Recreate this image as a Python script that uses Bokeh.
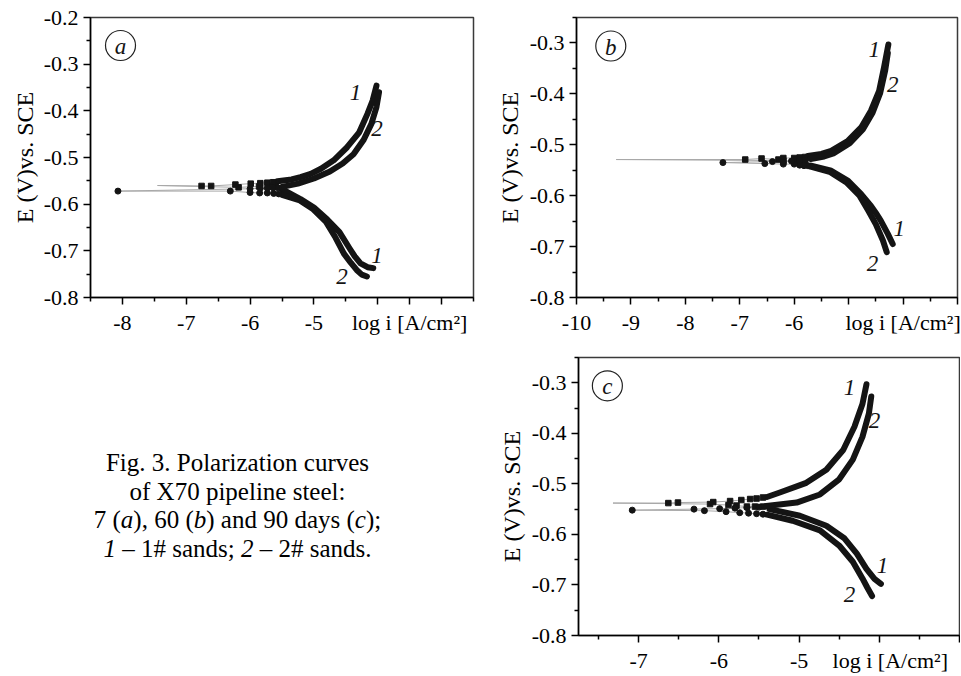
import math
from bokeh.plotting import figure
from bokeh.models import FixedTicker, Range1d, Div
from bokeh.layouts import column, row
from bokeh.embed import file_html
from bokeh.resources import INLINE
from bokeh.core.properties import value

FONT = "Liberation Serif"
INK = "#141414"

Y_LABEL = "E (V)vs. SCE"
X_LABEL = "log i [A/cm\u00b2]"
PAD = "\u00a0"

# ---------------- Panel (a): 7 days ----------------
# the x-axis title sits on the tick-label row, carried by the tick at -3.5
a_xticks = [-8, -7, -6, -5, -4, -3.5, -3]
a_xlabels = ["-8", "-7", "-6", "-5", "", X_LABEL, ""]
a_yticks = [-0.8, -0.7, -0.6, -0.5, -0.4, -0.3, -0.2]
a_ylabels = ["-0.8", "-0.7", "-0.6", "-0.5", "-0.4", "-0.3", "-0.2"]

# curve 1 (1# sands), squares
a1_cath_logi = [-4.07, -4.16, -4.27, -4.36, -4.44, -4.60, -4.79, -5.00, -5.21, -5.50]
a1_cath_E = [-0.737, -0.735, -0.727, -0.712, -0.695, -0.660, -0.633, -0.607, -0.589, -0.568]
a1_anod_logi = [-5.57, -5.35, -5.21, -5.05, -4.89, -4.69, -4.48, -4.29, -4.16, -4.08, -4.02]
a1_anod_E = [-0.551, -0.547, -0.542, -0.535, -0.524, -0.506, -0.478, -0.446, -0.406, -0.378, -0.346]
a1_scat_c_logi = [-5.60, -5.72, -5.86, -6.18]
a1_scat_c_E = [-0.562, -0.562, -0.562, -0.564]
a1_min_logi, a1_min_E = -7.45, -0.560
a1_scat_a_logi = [-6.76, -6.61, -6.23, -5.99, -5.84, -5.73, -5.64]
a1_scat_a_E = [-0.561, -0.561, -0.558, -0.556, -0.555, -0.554, -0.553]
# curve 2 (2# sands), circles
a2_cath_logi = [-4.17, -4.25, -4.33, -4.42, -4.53, -4.66, -4.81, -5.01, -5.22, -5.50]
a2_cath_E = [-0.755, -0.751, -0.741, -0.726, -0.706, -0.672, -0.638, -0.611, -0.592, -0.580]
a2_anod_logi = [-5.50, -5.25, -5.00, -4.75, -4.55, -4.38, -4.22, -4.10, -4.02, -3.98]
a2_anod_E = [-0.563, -0.556, -0.545, -0.530, -0.513, -0.493, -0.462, -0.428, -0.392, -0.360]
a2_scat_c_logi = [-5.55, -5.63, -5.73, -5.85, -6.00, -6.31]
a2_scat_c_E = [-0.578, -0.577, -0.576, -0.576, -0.575, -0.572]
a2_min_logi, a2_min_E = -8.07, -0.572
a2_scat_a_logi = [-6.00, -5.84, -5.73, -5.64, -5.56]
a2_scat_a_E = [-0.567, -0.566, -0.566, -0.565, -0.565]

# ---------------- Panel (b): 60 days ----------------
b_xticks = [-10, -9, -8, -7, -6, -5, -4, -3]
b_xlabels = ["-10", "-9", "-8", "-7", "-6", "", X_LABEL, ""]
b_yticks = [-0.8, -0.7, -0.6, -0.5, -0.4, -0.3]
b_ylabels = ["-0.8", "-0.7", "-0.6", "-0.5", "-0.4", "-0.3"]

b1_cath_logi = [-4.19, -4.28, -4.41, -4.50, -4.59, -4.77, -5.01, -5.32, -5.69]
b1_cath_E = [-0.695, -0.675, -0.649, -0.634, -0.620, -0.597, -0.571, -0.551, -0.541]
b1_anod_logi = [-5.75, -5.50, -5.32, -5.01, -4.77, -4.59, -4.44, -4.35, -4.27]
b1_anod_E = [-0.522, -0.518, -0.512, -0.492, -0.466, -0.433, -0.394, -0.348, -0.303]
b1_scat_c_logi = [-5.80, -5.90, -6.00, -6.20]
b1_scat_c_E = [-0.533, -0.533, -0.532, -0.531]
b1_min_logi, b1_min_E = -9.27, -0.529
b1_scat_a_logi = [-6.90, -6.60, -6.29, -6.20, -6.00, -5.90, -5.80]
b1_scat_a_E = [-0.529, -0.527, -0.529, -0.526, -0.526, -0.525, -0.524]

b2_cath_logi = [-4.30, -4.37, -4.50, -4.63, -4.80, -5.04, -5.35, -5.70]
b2_cath_E = [-0.711, -0.688, -0.656, -0.631, -0.600, -0.574, -0.553, -0.543]
b2_anod_logi = [-5.70, -5.45, -5.28, -4.98, -4.74, -4.56, -4.42, -4.33, -4.28]
b2_anod_E = [-0.528, -0.523, -0.517, -0.497, -0.470, -0.437, -0.398, -0.355, -0.320]
b2_scat_c_logi = [-5.75, -5.82, -5.90, -6.00, -6.20, -6.54]
b2_scat_c_E = [-0.541, -0.541, -0.540, -0.538, -0.538, -0.537]
b2_min_logi, b2_min_E = -7.31, -0.535
b2_scat_a_logi = [-6.40, -6.20, -6.05, -5.90, -5.80]
b2_scat_a_E = [-0.533, -0.534, -0.532, -0.531, -0.530]

# ---------------- Panel (c): 90 days ----------------
c_xticks = [-7, -6, -5, -4, -3]
c_xlabels = ["-7", "-6", "-5", PAD * 4 + X_LABEL, ""]
c_yticks = [-0.8, -0.7, -0.6, -0.5, -0.4, -0.3]
c_ylabels = ["-0.8", "-0.7", "-0.6", "-0.5", "-0.4", "-0.3"]

c1_cath_logi = [-3.98, -4.06, -4.16, -4.28, -4.44, -4.66, -4.99, -5.37]
c1_cath_E = [-0.698, -0.688, -0.668, -0.638, -0.607, -0.583, -0.563, -0.550]
c1_anod_logi = [-5.40, -5.24, -4.91, -4.66, -4.45, -4.31, -4.21, -4.16]
c1_anod_E = [-0.526, -0.517, -0.498, -0.472, -0.433, -0.387, -0.342, -0.303]
c1_scat_c_logi = [-5.45, -5.55, -5.65, -5.78, -5.88, -6.11]
c1_scat_c_E = [-0.545, -0.545, -0.545, -0.543, -0.542, -0.540]
c1_min_logi, c1_min_E = -7.32, -0.538
c1_scat_a_logi = [-6.63, -6.51, -6.07, -5.86, -5.72, -5.61, -5.53, -5.45]
c1_scat_a_E = [-0.538, -0.537, -0.536, -0.534, -0.532, -0.530, -0.529, -0.527]

c2_cath_logi = [-4.09, -4.15, -4.21, -4.33, -4.50, -4.74, -5.08, -5.40]
c2_cath_E = [-0.722, -0.705, -0.687, -0.654, -0.622, -0.592, -0.573, -0.561]
c2_anod_logi = [-5.41, -5.03, -4.74, -4.50, -4.33, -4.21, -4.13, -4.10]
c2_anod_E = [-0.544, -0.537, -0.521, -0.491, -0.452, -0.407, -0.361, -0.327]
c2_scat_c_logi = [-5.45, -5.53, -5.63, -5.74, -5.91, -6.18]
c2_scat_c_E = [-0.560, -0.559, -0.558, -0.557, -0.555, -0.553]
c2_min_logi, c2_min_E = -7.08, -0.552
c2_scat_a_logi = [-6.31, -5.99, -5.80, -5.65, -5.50]
c2_scat_a_E = [-0.550, -0.549, -0.548, -0.547, -0.546]

curve_tags = ["1", "2", "1", "2"]

CAPTION = ("Fig. 3. Polarization curves<br>of X70 pipeline steel:<br>"
           "7 (<i>a</i>), 60 (<i>b</i>) and 90 days (<i>c</i>);<br>"
           "<i>1</i> \u2013 1# sands; <i>2</i> \u2013 2# sands.")


def curve(cx, cy, ax, ay, scx, scy, mx, my, sax, say, marker, min_marked):
    return dict(cx=cx, cy=cy, ax=ax, ay=ay, scx=scx, scy=scy, mx=mx, my=my,
                sax=sax, say=say, marker=marker, min_marked=min_marked)


def half_steps(lo, hi, skip):
    out = []
    k = math.ceil(lo * 2)
    while k / 2 <= hi + 1e-9:
        v = k / 2
        if k % 2 != 0 and v not in skip:
            out.append(v)
        k += 1
    return out


def build_panel(width, height, borders, xr, yr, xticks, xlabels, yticks, ylabels,
                curves, tag_xy, letter, letter_xy, ylab_standoff):
    bl, br, bt, bb = borders
    p = figure(width=width, height=height, x_range=Range1d(*xr), y_range=Range1d(*yr),
               output_backend="svg", toolbar_location=None,
               min_border_left=bl, min_border_right=br, min_border_top=bt, min_border_bottom=bb,
               background_fill_color="white", border_fill_color="white")
    p.grid.visible = False
    p.outline_line_color = "#3a3a3a"
    p.outline_line_width = 1.5

    p.xaxis.ticker = FixedTicker(ticks=xticks, minor_ticks=half_steps(xr[0], xr[1], xticks))
    p.xaxis.major_label_overrides = {t: l for t, l in zip(xticks, xlabels)}
    yminor = [round(v / 100.0, 3) for v in range(int(round(yr[0] * 100)), int(round(yr[1] * 100)) + 1)
              if v % 10 != 0 and v % 5 == 0]
    p.yaxis.ticker = FixedTicker(ticks=yticks, minor_ticks=yminor)
    p.yaxis.major_label_overrides = {t: l for t, l in zip(yticks, ylabels)}
    for ax in (p.xaxis[0], p.yaxis[0]):
        ax.axis_line_color = "black"
        ax.axis_line_width = 1.5
        ax.major_tick_line_color = "black"
        ax.major_tick_line_width = 1.5
        ax.minor_tick_line_color = "black"
        ax.minor_tick_line_width = 1.5
        ax.major_tick_in = 0
        ax.major_tick_out = 7
        ax.minor_tick_in = 0
        ax.minor_tick_out = 4
        ax.major_label_text_font = FONT
        ax.major_label_text_font_size = "22px"
        ax.major_label_text_color = "black"
        ax.major_label_standoff = 5

    p.yaxis.axis_label = Y_LABEL
    p.yaxis.axis_label_text_font = FONT
    p.yaxis.axis_label_text_font_style = "normal"
    p.yaxis.axis_label_text_color = "black"
    p.yaxis.axis_label_text_font_size = "24px"
    p.yaxis.axis_label_standoff = ylab_standoff

    # thin connecting lines through the sparse points near Ecorr
    for c in curves:
        gx = [c["cx"][-1]] + c["scx"] + [c["mx"]] + c["sax"] + [c["ax"][0]]
        gy = [c["cy"][-1]] + c["scy"] + [c["my"]] + c["say"] + [c["ay"][0]]
        p.line(gx, gy, line_width=1, color="#a8a8a8")
    # dense branches and sparse markers
    for c in curves:
        p.line(c["cx"], c["cy"], line_width=6, color=INK, line_cap="round", line_join="round")
        p.line(c["ax"], c["ay"], line_width=6, color=INK, line_cap="round", line_join="round")
        mx = c["scx"] + ([c["mx"]] if c["min_marked"] else []) + c["sax"]
        my = c["scy"] + ([c["my"]] if c["min_marked"] else []) + c["say"]
        if c["marker"] == "square":
            p.scatter(mx, my, marker="square", size=5.5, color=INK)
        else:
            p.scatter(mx, my, marker="circle", size=6, color=INK)

    # curve numbers
    p.text(x=[t[0] for t in tag_xy], y=[t[1] for t in tag_xy], text=curve_tags,
           text_font=value(FONT), text_font_style="italic", text_font_size="23px",
           text_align="center", text_baseline="middle", text_color=INK)

    # circled panel letter
    p.scatter([letter_xy[0]], [letter_xy[1]], marker="circle", size=30,
              fill_color=None, line_color="#222222", line_width=1.2)
    p.text(x=[letter_xy[0]], y=[letter_xy[1]], text=[letter],
           text_font=value(FONT), text_font_style="italic", text_font_size="23px",
           text_align="center", text_baseline="middle", text_color=INK, y_offset=1)
    return p


curves_a = [
    curve(a1_cath_logi, a1_cath_E, a1_anod_logi, a1_anod_E, a1_scat_c_logi, a1_scat_c_E,
          a1_min_logi, a1_min_E, a1_scat_a_logi, a1_scat_a_E, "square", False),
    curve(a2_cath_logi, a2_cath_E, a2_anod_logi, a2_anod_E, a2_scat_c_logi, a2_scat_c_E,
          a2_min_logi, a2_min_E, a2_scat_a_logi, a2_scat_a_E, "circle", True),
]
curves_b = [
    curve(b1_cath_logi, b1_cath_E, b1_anod_logi, b1_anod_E, b1_scat_c_logi, b1_scat_c_E,
          b1_min_logi, b1_min_E, b1_scat_a_logi, b1_scat_a_E, "square", False),
    curve(b2_cath_logi, b2_cath_E, b2_anod_logi, b2_anod_E, b2_scat_c_logi, b2_scat_c_E,
          b2_min_logi, b2_min_E, b2_scat_a_logi, b2_scat_a_E, "circle", True),
]
curves_c = [
    curve(c1_cath_logi, c1_cath_E, c1_anod_logi, c1_anod_E, c1_scat_c_logi, c1_scat_c_E,
          c1_min_logi, c1_min_E, c1_scat_a_logi, c1_scat_a_E, "square", False),
    curve(c2_cath_logi, c2_cath_E, c2_anod_logi, c2_anod_E, c2_scat_c_logi, c2_scat_c_E,
          c2_min_logi, c2_min_E, c2_scat_a_logi, c2_scat_a_E, "circle", True),
]

pa = build_panel(493, 340, (90, 20, 17, 43), (-8.5, -2.5), (-0.8, -0.2),
                 a_xticks, a_xlabels, a_yticks, a_ylabels, curves_a,
                 [(-4.35, -0.361), (-4.01, -0.438), (-4.01, -0.710), (-4.56, -0.756)],
                 "a", (-8.03, -0.260), 3)
pb = build_panel(467, 340, (81, 3, 17, 43), (-10, -3), (-0.8, -0.25),
                 b_xticks, b_xlabels, b_yticks, b_ylabels, curves_b,
                 [(-4.53, -0.312), (-4.19, -0.381), (-4.07, -0.665), (-4.56, -0.734)],
                 "b", (-9.37, -0.306), 4)
pc = build_panel(467, 335, (85, 1, 17, 37), (-7.75, -3), (-0.8, -0.25),
                 c_xticks, c_xlabels, c_yticks, c_ylabels, curves_c,
                 [(-4.37, -0.309), (-4.06, -0.374), (-3.96, -0.661), (-4.37, -0.719)],
                 "c", (-7.39, -0.306), 4)

caption = Div(
    text=('<div style="font-family:\'Liberation Serif\',serif; font-size:25px; line-height:28.5px; '
          'text-align:center; color:#000; width:475px; padding-top:109px;">' + CAPTION + '</div>'),
    width=493, height=335, margin=0)

layout = column(row(pa, pb, spacing=0), row(caption, pc, spacing=0), spacing=0)

open("out.html", "w").write(file_html(layout, INLINE))
